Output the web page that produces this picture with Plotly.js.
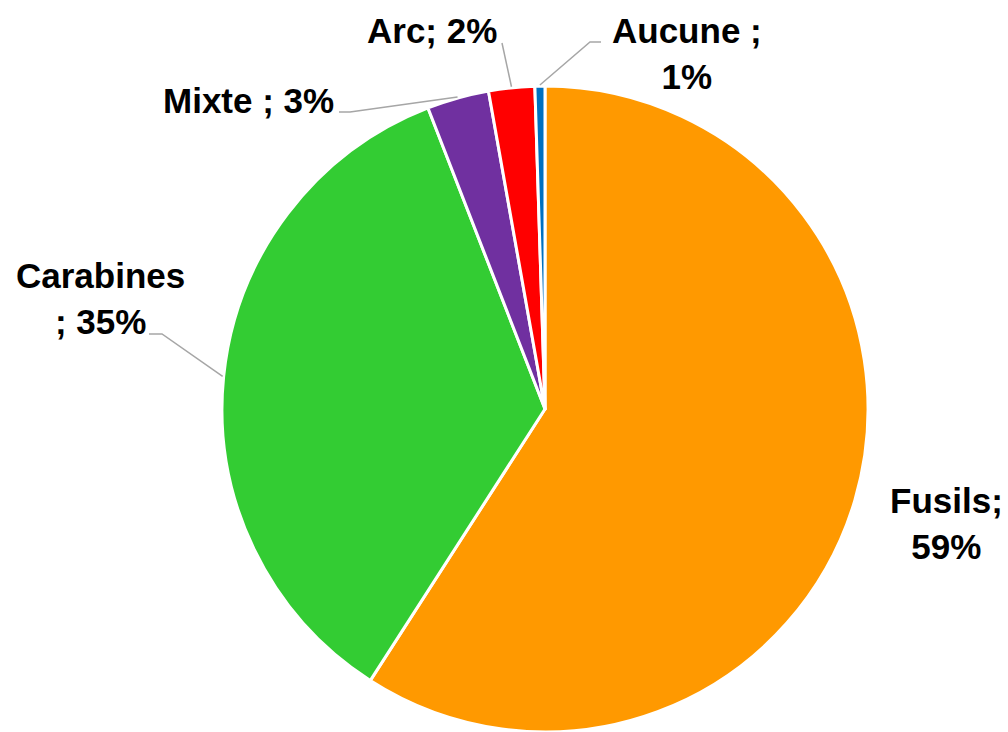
<!DOCTYPE html>
<html>
<head>
<meta charset="utf-8">
<script src="https://cdn.plot.ly/plotly-3.0.1.min.js"></script>
<style>html,body{margin:0;padding:0;background:#fff;}#chart{width:1008px;height:732px;}</style>
</head>
<body>
<div id="chart"></div>
<script>
// Data
const categories = ["Fusils", "Carabines", "Mixte", "Arc", "Aucune"];
const values = [59.1, 35.0, 3.1, 2.3, 0.5];
const labelTexts = ["Fusils;<br>59%", "Carabines<br>; 35%", "Mixte ; 3%", "Arc; 2%", "Aucune ;<br>1%"];
const colors = ["#FF9900", "#33CC33", "#7030A0", "#FF0000", "#0070C0"];

// Layout geometry (pixels)
const W = 1008, H = 732;
const cx = 545, cy = 409, R = 323;
const labelPos = [[946, 523], [100, 298], [248, 101], [432, 31], [687, 54]];
// leader line elbow/end points (null = no leader)
const leaderPts = [null, [[162, 334], [149, 334]], [[350, 112], [339, 112]], [[502, 43]], [[590, 42], [601, 42]]];

const px = x => x / W;
const py = y => 1 - y / H;

const total = values.reduce((a, b) => a + b, 0);
let cum = 0;
const shapes = [];
const annotations = [];
values.forEach((v, i) => {
  const mid = (cum + v / 2) / total * 2 * Math.PI; // clockwise from top
  cum += v;
  const ex = cx + (R + 1) * Math.sin(mid);
  const ey = cy - (R + 1) * Math.cos(mid);
  if (leaderPts[i]) {
    let d = `M ${px(ex)} ${py(ey)}`;
    leaderPts[i].forEach(p => { d += ` L ${px(p[0])} ${py(p[1])}`; });
    shapes.push({type: 'path', xref: 'paper', yref: 'paper', path: d,
      line: {color: '#A6A6A6', width: 1.5}});
  }
  annotations.push({text: labelTexts[i], x: px(labelPos[i][0]), y: py(labelPos[i][1]),
    xref: 'paper', yref: 'paper', xanchor: 'center', yanchor: 'middle', showarrow: false,
    align: 'center',
    font: {family: '"Liberation Sans Narrow", "Arial Narrow", "Liberation Sans", Arial, sans-serif', size: 35, color: '#000', weight: 'bold'}});
});

const trace = {
  type: 'pie', labels: categories, values: values, sort: false, direction: 'clockwise', rotation: 0,
  marker: {colors: colors, line: {color: '#FFFFFF', width: 3}},
  textinfo: 'none', hoverinfo: 'label+percent',
  domain: {x: [(cx - R) / W, (cx + R) / W], y: [(H - cy - R) / H, (H - cy + R) / H]}
};

const layout = {
  width: W, height: H, margin: {l: 0, r: 0, t: 0, b: 0},
  paper_bgcolor: '#fff', showlegend: false,
  shapes: shapes, annotations: annotations
};
Plotly.newPlot('chart', [trace], layout, {displayModeBar: false, staticPlot: true});
</script>
</body>
</html>
